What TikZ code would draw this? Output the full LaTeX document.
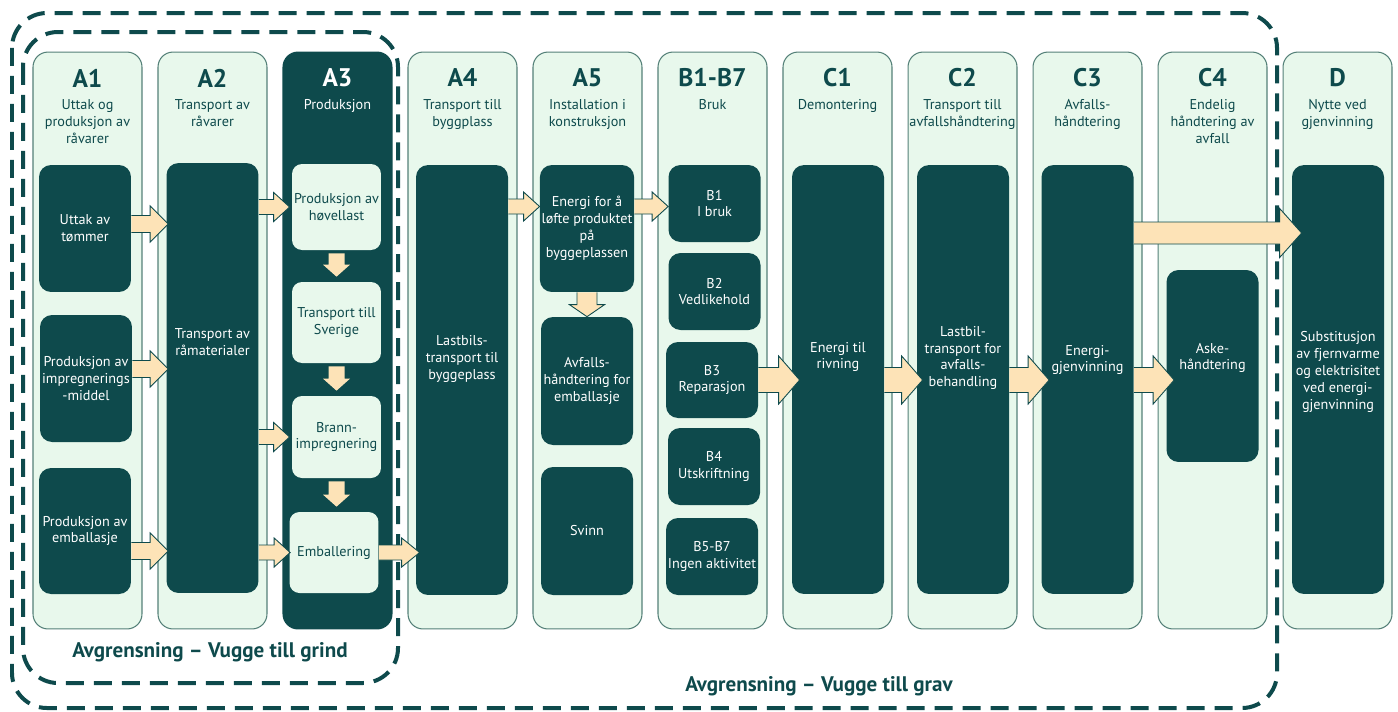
\documentclass[tikz,border=0pt]{standalone}
\usepackage{fontspec}
\setmainfont{PT Sans}
\usetikzlibrary{calc}
\definecolor{darkteal}{RGB}{14,74,76}
\definecolor{mint}{RGB}{232,248,236}
\definecolor{colline}{RGB}{84,128,120}
\definecolor{sand}{RGB}{253,227,183}
\newcommand\bodyfont{\fontsize{8.1}{9.6}\selectfont}
\tikzset{
	col/.style={draw=colline, line width=0.6pt, fill=mint, rounded corners=0.3cm, minimum width=2.18cm, minimum height=11.54cm},
	darkcol/.style={col, draw=darkteal, fill=darkteal},
	coltitle/.style={font=\fontsize{14.5}{16}\selectfont\bfseries, text=darkteal, inner sep=0pt},
	colsub/.style={font=\bodyfont, text=darkteal, align=center, inner sep=0pt, anchor=north},
	dbox/.style={fill=darkteal, rounded corners=0.24cm, minimum width=1.84cm, text=white, font=\bodyfont, align=center, inner sep=1pt},
	lbox/.style={fill=mint, rounded corners=0.2cm, minimum width=1.78cm, text=darkteal, font=\bodyfont, align=center, inner sep=1pt},
	btxt/.style={text=white, font=\bodyfont, align=center, inner sep=0pt},
	grensestrek/.style={draw=darkteal, line width=0.08cm, dash pattern=on 0.36cm off 0.2cm, rounded corners=0.7cm},
	blockarrow/.style={fill=sand, draw=darkteal, line width=0.5pt, line join=miter},
	flatarrow/.style={fill=sand},
	grense/.style={font=\fontsize{12}{14}\selectfont\bfseries, text=darkteal}
}
% horizontal block arrow: from, tip, half shaft, half head, head length
\newcommand\harrow[5]{%
	\path #1 coordinate (hs);
	\path let \p1=#2, \p2=(hs) in (\x1,\y2) coordinate (ht);
	\path[blockarrow] ($(hs)+(0,#3)$) -- ($(ht)+(-#5,#3)$) -- ($(ht)+(-#5,#4)$) -- (ht)
		-- ($(ht)+(-#5,-#4)$) -- ($(ht)+(-#5,-#3)$) -- ($(hs)+(0,-#3)$);}
% downward block arrow: style, from, tip, half shaft, half head, head length
\newcommand\varrow[6]{%
	\path #2 coordinate (vs);
	\path let \p1=#3, \p2=(vs) in (\x2,\y1) coordinate (vt);
	\path[#1] ($(vs)+(-#4,0)$) -- ($(vt)+(-#4,-#6)$) -- ($(vt)+(-#5,-#6)$) -- (vt)
		-- ($(vt)+(#5,-#6)$) -- ($(vt)+(#4,-#6)$) -- ($(vs)+(#4,0)$);}
\begin{document}
\begin{tikzpicture}[x=0.02cm, y=-0.02cm]
	\useasboundingbox (0,0) rectangle (1398,711);
	% columns
	\node[col] (cA1) at (87.5,340.5) {};
	\node[col] (cA2) at (212.5,340.5) {};
	\node[darkcol] (cA3) at (337.5,340.5) {};
	\node[col] (cA4) at (462.5,340.5) {};
	\node[col] (cA5) at (587.5,340.5) {};
	\node[col] (cB) at (712.5,340.5) {};
	\node[col] (cC1) at (837.5,340.5) {};
	\node[col] (cC2) at (962.5,340.5) {};
	\node[col] (cC3) at (1087.5,340.5) {};
	\node[col] (cC4) at (1212.5,340.5) {};
	\node[col] (cD) at (1337.5,340.5) {};
	\node[coltitle] (tA1) at (87.5,78) {A1};
	\node[coltitle] (tA2) at (212.5,78) {A2};
	\node[coltitle, text=white] (tA3) at (337.5,78) {A3};
	\node[coltitle] (tA4) at (462.5,78) {A4};
	\node[coltitle] (tA5) at (587.5,78) {A5};
	\node[coltitle] (tB) at (712.5,78) {B1-B7};
	\node[coltitle] (tC1) at (837.5,78) {C1};
	\node[coltitle] (tC2) at (962.5,78) {C2};
	\node[coltitle] (tC3) at (1087.5,78) {C3};
	\node[coltitle] (tC4) at (1212.5,78) {C4};
	\node[coltitle] (tD) at (1337.5,78) {D};
	\node[colsub] (sA1) at (87.5,99) {Uttak og\\produksjon av\\råvarer};
	\node[colsub] (sA2) at (212.5,99) {Transport av\\råvarer};
	\node[colsub, text=white] (sA3) at (337.5,99) {Produksjon};
	\node[colsub] (sA4) at (462.5,99) {Transport till\\byggplass};
	\node[colsub] (sA5) at (587.5,99) {Installation i\\konstruksjon};
	\node[colsub] (sB) at (712.5,99) {Bruk};
	\node[colsub] (sC1) at (837.5,99) {Demontering};
	\node[colsub] (sC2) at (962.5,99) {Transport till\\avfallshåndtering};
	\node[colsub] (sC3) at (1087.5,99) {Avfalls-\\håndtering};
	\node[colsub] (sC4) at (1212.5,99) {Endelig\\håndtering av\\avfall};
	\node[colsub] (sD) at (1337.5,99) {Nytte ved\\gjenvinning};
	% boundaries
	\draw[grensestrek] (12,13) rectangle (1277,708);
	\draw[grensestrek] (23,32) rectangle (398,683);
	\node[grense] (grind) at (210,652) {Avgrensning – Vugge till grind};
	\node[grense] (grav) at (819,686) {Avgrensning – Vugge till grav};
	% A1 - A3
	\node[dbox, minimum height=2.54cm] (uttak) at (85,228.5) {Uttak av\\tømmer};
	\node[dbox, minimum height=2.54cm] (impreg) at (86,378.5) {Produksjon av\\impregnerings\\-middel};
	\node[dbox, minimum height=2.52cm] (embprod) at (85,531) {Produksjon av\\emballasje};
	\node[dbox, minimum height=8.6cm] (ramat) at (212.5,378) {};
	\node[btxt] (ramattxt) at (212.5,342) {Transport av\\råmaterialer};
	\node[lbox, minimum height=1.72cm] (hovel) at (336.5,207) {Produksjon av\\høvellast};
	\node[lbox, minimum height=1.62cm] (sverige) at (336.5,322.5) {Transport till\\Sverige};
	\node[lbox, minimum height=1.64cm] (brann) at (336.5,437) {Brann-\\impregnering};
	\node[lbox, minimum height=1.62cm] (emball) at (334,552.5) {Emballering};
	% A4 - B
	\node[dbox, minimum height=8.6cm] (lastbil) at (462,380) {};
	\node[btxt] (lastbiltxt) at (462,359) {Lastbils-\\transport til\\byggeplass};
	\node[dbox, minimum height=2.54cm] (loft) at (587,228.5) {Energi for å\\løfte produktet\\på\\byggeplassen};
	\node[dbox, minimum height=2.56cm] (avfemb) at (587,381) {Avfalls-\\håndtering for\\emballasje};
	\node[dbox, minimum height=2.56cm] (svinn) at (587,531) {Svinn};
	\node[dbox, minimum height=1.54cm] (b1) at (714.5,203.5) {B1\\I bruk};
	\node[dbox, minimum height=1.54cm] (b2) at (714.5,291.5) {B2\\Vedlikehold};
	\node[dbox, minimum height=1.52cm] (b3) at (712,380) {B3\\Reparasjon};
	\node[dbox, minimum height=1.54cm] (b4) at (714,466.5) {B4\\Utskriftning};
	\node[dbox, minimum height=1.54cm] (b5) at (712,556.5) {B5-B7\\Ingen aktivitet};
	% C - D
	\node[dbox, minimum height=8.58cm] (rivn) at (838,379.5) {};
	\node[btxt] (rivntxt) at (838,357) {Energi til\\rivning};
	\node[dbox, minimum height=8.58cm] (avfbeh) at (963,379.5) {};
	\node[btxt] (avfbehtxt) at (963,358) {Lastbil-\\transport for\\avfalls-\\behandling};
	\node[dbox, minimum height=8.58cm] (gjenv) at (1087.5,379.5) {};
	\node[btxt] (gjenvtxt) at (1087.5,360) {Energi-\\gjenvinning};
	\node[dbox, minimum height=3.84cm] (aske) at (1212.5,366) {};
	\node[btxt] (asketxt) at (1212.5,358) {Aske-\\håndtering};
	\node[dbox, minimum height=8.58cm] (subst) at (1338,379.5) {};
	\node[btxt] (substtxt) at (1338,372) {Substitusjon\\av fjernvarme\\og elektrisitet\\ved energi-\\gjenvinning};
	% arrows
	\harrow{($(uttak.east)+(0,-4.5)$)}{($(ramat.west)+(2,0)$)}{8.5}{18}{18}
	\harrow{($(impreg.east)+(0,-9.5)$)}{($(ramat.west)+(2,0)$)}{8.5}{18}{18}
	\harrow{($(embprod.east)+(0,20)$)}{($(ramat.west)+(2,0)$)}{8.5}{18}{18}
	\harrow{(ramat.east |- hovel)}{($(hovel.west)+(-2,0)$)}{7.5}{14.5}{16}
	\harrow{(ramat.east |- brann)}{($(brann.west)+(-2,0)$)}{7.5}{14.5}{16}
	\harrow{(ramat.east |- emball)}{($(emball.west)+(1,0)$)}{7.5}{14.5}{16}
	\harrow{(emball.east)}{($(lastbil.west)+(4,0)$)}{7.5}{14.5}{18}
	\harrow{($(lastbil.east |- loft)+(0,-22)$)}{(loft.west)}{7.5}{14.5}{16}
	\harrow{($(loft.east)+(0,-22)$)}{(b1.west)}{7.5}{14.5}{16}
	\harrow{(b3.east)}{($(rivn.west)+(8,0)$)}{12.5}{24}{21}
	\harrow{(rivn.east |- b3)}{($(avfbeh.west)+(6,0)$)}{12.5}{24}{21}
	\harrow{(avfbeh.east |- b3)}{($(gjenv.west)+(8,0)$)}{12.5}{24}{21}
	\harrow{(gjenv.east |- b3)}{($(aske.west)+(8,0)$)}{12.5}{24}{21}
	\harrow{($(gjenv.east)+(0,-146.5)$)}{($(subst.west)+(10,0)$)}{11}{24.5}{22}
	\varrow{flatarrow}{($(hovel.south)+(0,3)$)}{($(sverige.north)+(0,-5)$)}{8}{13.5}{12}
	\varrow{flatarrow}{($(sverige.south)+(0,3)$)}{($(brann.north)+(0,-5)$)}{8}{13.5}{12}
	\varrow{flatarrow}{($(brann.south)+(0,3)$)}{($(emball.north)+(0,-5)$)}{8}{13.5}{12}
	\varrow{blockarrow}{(loft.south)}{(avfemb.north)}{10}{17.5}{12}
\end{tikzpicture}
\end{document}
